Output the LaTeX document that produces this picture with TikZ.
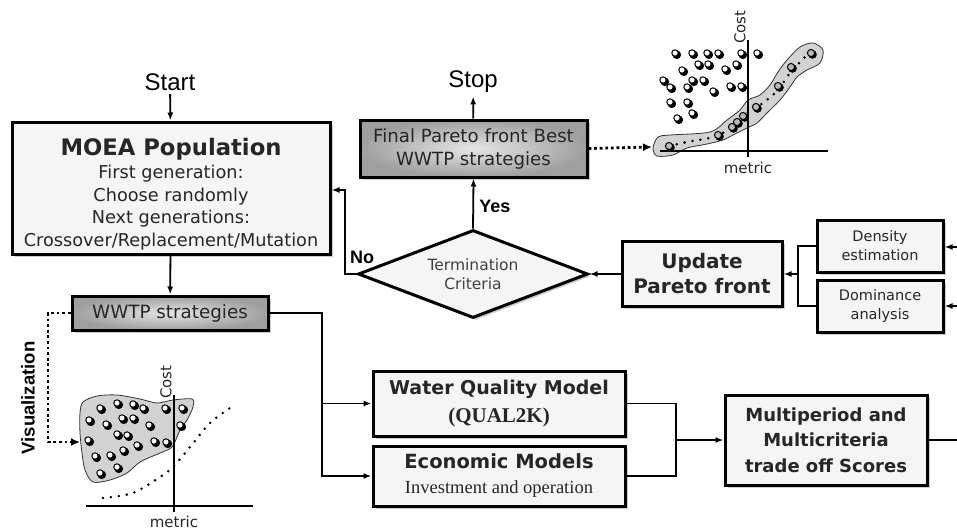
\documentclass[tikz,border=0pt]{standalone}
\usepackage{fontspec}
\setmainfont{DejaVu Sans}
\newfontfamily\arialf{Liberation Sans}
\newfontfamily\timesf{Liberation Serif}
\usetikzlibrary{arrows.meta,shapes.geometric,shadows}

\tikzset{
  box/.style={draw=black,line width=3pt,fill=gray!8,align=center,text=black!85,
    inner sep=0pt,drop shadow={shadow xshift=2.5pt,shadow yshift=-2.5pt,opacity=0.4}},
  darkbox/.style={box,inner color=gray!20,outer color=gray!75},
  lbl/.style={font=\arialf\fontsize{24}{26}\selectfont},
  flow/.style={line width=1.8pt,-{Latex[length=8pt,width=6pt]}},
  dots/.style={line width=2.8pt,dash pattern=on 2.8pt off 2.8pt},
  axlbl/.style={font=\fontsize{15}{17}\selectfont,text=black!85}
}
\newcommand\spt[2]{\fill (#1,#2) ++(1.8,1.8) circle (4.3pt);
  \filldraw[fill=white,draw=black,line width=1pt] (#1,#2) circle (3.2pt);}
\newcommand\fpt[2]{\fill (#1,#2) ++(1.5,1.5) circle (4.3pt);
  \filldraw[fill=gray!55,draw=black,line width=1pt] (#1,#2) circle (3.6pt);}

\begin{document}
\begin{tikzpicture}[x=1pt,y=-1pt]
\useasboundingbox (0,0) rectangle (957,530);

\node[lbl] (start) at (170,82) {Start};
\node[box,minimum width=318,minimum height=132,font=\fontsize{17.7}{22.5}\selectfont] (moea) at (171,188)
  {{\bfseries\fontsize{22.7}{26}\selectfont\rule{0pt}{29pt}MOEA Population}\\[1pt]
   First generation:\\ Choose randomly\\ Next generations:\\ Crossover/Replacement/Mutation};
\node[darkbox,minimum width=196,minimum height=34,font=\fontsize{18.3}{20}\selectfont] (wwtp) at (170,313) {WWTP strategies};

\node[lbl] (stop) at (473,82) {Stop};
\node[darkbox,minimum width=227,minimum height=57,font=\fontsize{18.2}{23}\selectfont] (final) at (473.5,148.5)
  {Final Pareto front Best\\ WWTP strategies};
\node[box,diamond,aspect=2.6,minimum width=230,minimum height=88,
  font=\fontsize{15.5}{19}\selectfont,text=black!75] (term) at (473,274) {Termination\\ Criteria};

\node[box,minimum width=160,minimum height=65,font=\bfseries\fontsize{20}{25}\selectfont] (update) at (702,274)
  {Update\\ Pareto front};
\node[box,minimum width=126,minimum height=52,font=\fontsize{14.5}{19}\selectfont] (dens) at (880,246)
  {Density\\ estimation};
\node[box,minimum width=126,minimum height=52,font=\fontsize{14.5}{19}\selectfont] (domi) at (880,306)
  {Dominance\\ analysis};

\node[box,minimum width=252,minimum height=65,font=\fontsize{19}{28}\selectfont] (wqm) at (499,403.5)
  {{\bfseries Water Quality Model}\\ {\timesf\bfseries\fontsize{21}{22}\selectfont (QUAL2K)}};
\node[box,minimum width=252,minimum height=60,font=\fontsize{19.5}{25}\selectfont] (eco) at (499,476)
  {{\bfseries Economic Models}\\ {\timesf\fontsize{18.5}{22}\selectfont Investment and operation}};
\node[box,minimum width=202,minimum height=90,font=\bfseries\fontsize{18}{25.5}\selectfont] (multi) at (826,440)
  {Multiperiod and\\ Multicriteria\\ trade off Scores};

\coordinate (jn) at (322,313);
\coordinate (jm) at (676,440);
\coordinate (jd) at (798,274);
\coordinate (nofb) at (345,190);
\coordinate (outr) at (957,440);
\coordinate (ind) at (957,247);
\coordinate (ino) at (957,306);
\coordinate (fr) at (652,147);
\coordinate (vis) at (80,442);
\coordinate (vc) at (48,313);

\draw[flow] (start) -- (moea);
\draw[flow] (moea) -- (wwtp);
\draw[flow] (wwtp.east) -- (jn) |- (wqm.west);
\draw[flow] (jn) |- (eco.west);
\draw[line width=1.8pt] (wqm.east) -| (jm) |- (eco.east);
\draw[flow] (jm) -- (multi.west);
\draw[line width=1.8pt] (multi.east) -- (outr);
\draw[flow] (ind) -- (ind -| dens.east);
\draw[flow] (ino) -- (ino -| domi.east);
\draw[line width=1.8pt] (dens.west) -| (jd) |- (domi.west);
\draw[flow] (jd) -- (update.east);
\draw[flow] (update.west) -- (term.east);
\draw[flow] (term.north) -- (final.south) node[pos=0.45,right=2pt,font=\arialf\bfseries\fontsize{18}{20}\selectfont] {Yes};
\draw[flow] (term.west) -| (nofb) -- (nofb -| moea.east);
\node[font=\arialf\bfseries\fontsize{18}{20}\selectfont] (no) at (362,257) {No};
\draw[flow] (final) -- (stop);
\draw[dots,-{Latex[length=9pt,width=8pt]}] (final.east) -- (fr);
\draw[dots,-{Latex[length=9pt,width=8pt]}] (wwtp.west) -- (vc) |- (vis);
\node[rotate=90,font=\arialf\bfseries\fontsize{18.5}{20}\selectfont] (visl) at (28,398) {Visualization};

% Pareto front plot
\filldraw[fill=gray!35,draw=black!80,line width=0.8pt] plot[smooth cycle] coordinates {
  (653,148) (658,137) (670,135) (710,132) (727,120) (740,110) (748,100) (760,95) (770,85)
  (778,72) (787,60) (800,47) (813,43) (823,50) (820,63) (807,70) (797,77) (790,87)
  (780,100) (767,113) (757,123) (747,128) (733,135) (723,140) (707,144) (687,148)
  (673,155) (657,156)};
\draw[line width=1.8pt] (660,151) -- (828,151);
\draw[line width=1.8pt] (748,40) -- (748,157);
\node[axlbl,rotate=90] (cost1) at (740,27) {Cost};
\node[axlbl] (met1) at (748,168) {metric};
\draw[line width=2.8pt,line cap=round,dash pattern=on 0pt off 8pt] plot[smooth] coordinates {
  (669,146) (687,142) (713,137) (733,127) (747,113) (763,103) (778,90) (790,73) (807,55)};
\foreach \x/\y in {675/53,692/53,707/53,718/53,741/53,757/53,698/64,708/64,
  682/70,725/69,736/64,663/80,670/87,692/80,703/80,687/87,713/91,
  730/86,741/86,670/102,687/102,692/113,677/118}
  {\spt{\x}{\y}}
\foreach \x/\y in {669/146,718/135,732/127,737/122,743/116,756/107,778/86,791/67,811/53}
  {\fpt{\x}{\y}}

% population plot
\filldraw[fill=gray!35,draw=black!80,line width=0.8pt] plot[smooth cycle] coordinates {
  (80,413) (83,402) (97,396) (117,395) (140,399) (157,403) (173,400) (192,399) (193,407)
  (187,420) (180,430) (172,447) (160,453) (140,462) (127,473) (110,480) (93,482) (85,470)
  (82,453) (80,433)};
\draw[line width=1.8pt] (86,506) -- (253,506);
\draw[line width=1.8pt] (174,395) -- (174,512);
\node[axlbl,rotate=90] (cost2) at (166,382) {Cost};
\node[axlbl] (met2) at (174,522) {metric};
\draw[line width=2.8pt,line cap=round,dash pattern=on 0pt off 8pt] plot[smooth] coordinates {
  (103,498) (133,493) (160,477) (173,467) (190,447) (210,423) (230,408)};
\foreach \x/\y in {100/408,117/403,133/404,143/408,165/408,182/408,89/420,106/424,
  122/418,133/418,149/425,180/425,117/434,127/435,88/440,137/445,
  154/441,166/442,123/450,95/456,110/455,100/473,117/467}
  {\spt{\x}{\y}}
\end{tikzpicture}
\end{document}
